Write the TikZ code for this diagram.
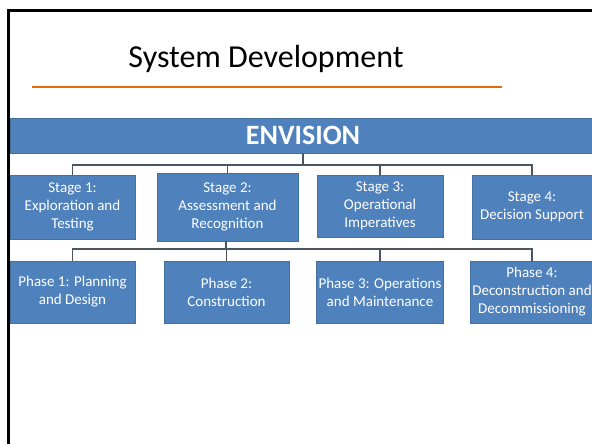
\documentclass[tikz,border=0pt]{standalone}
\usepackage{fontspec}
\setmainfont{Carlito}
\definecolor{boxblue}{RGB}{79,129,189}
\definecolor{boxedge}{RGB}{65,113,156}
\definecolor{linkgray}{RGB}{75,85,95}
\definecolor{rulered}{RGB}{228,108,10}

\begin{document}
\begin{tikzpicture}[
  x=1pt, y=-1pt,
  box/.style={draw=boxedge, fill=boxblue, text=white, align=center, inner sep=2pt,
    font=\fontsize{15}{18}\selectfont},
  stagebox/.style={box, minimum height=64},
  phasebox/.style={box, minimum height=62},
  link/.style={draw=linkgray, line width=1.2pt}
]
\clip (0,0) rectangle (592,444);
\fill[white] (0,0) rectangle (592,444);
\draw[line width=3pt] (8,450) -- (8,11) -- (600,11);

\node[anchor=base, font=\fontsize{32}{36}\selectfont] (title) at (266,68) {System Development};
\draw[rulered, line width=2pt] (32,87) -- (502,87);

\node[box, minimum width=582, minimum height=35] (env) at (301,135.5) {};
\node[anchor=base, text=white, font=\fontsize{28}{32}\selectfont\bfseries] (envtxt) at (303,144) {ENVISION};

% stages
\node[stagebox, minimum width=125] (s1) at (72.5,207) {Stage 1:\\Exploration and\\Testing};
\node[stagebox, minimum width=141, minimum height=68] (s2) at (227.5,207) {Stage 2:\\Assessment and\\Recognition};
\node[stagebox, minimum width=126, minimum height=62] (s3) at (380,206) {Stage 3:\\Operational\\Imperatives};
\node[stagebox, minimum width=120] (s4) at (532,207) {Stage 4:\\Decision Support};

% phases
\node[phasebox, minimum width=125] (p1) at (72.5,292) {Phase 1: Planning\\and Design};
\node[phasebox, minimum width=125] (p2) at (226.5,292) {Phase 2:\\Construction};
\node[phasebox, minimum width=126] (p3) at (380,292) {Phase 3: Operations\\and Maintenance};
\node[phasebox, minimum width=120] (p4) at (532,292) {Phase 4:\\Deconstruction and\\Decommissioning};

% bus lines
\coordinate (bus1) at (303,165);
\coordinate (bus2) at (226,249);
\draw[link] (env.south -| bus1) -- (bus1);
\draw[link] (s1.north) |- (bus1) -| (s4.north);
\draw[link] (s2.north) -- (s2.north |- bus1);
\draw[link] (s3.north) -- (s3.north |- bus1);
\draw[link] (s2.south -| bus2) -- (bus2);
\draw[link] (p1.north) |- (bus2) -| (p4.north);
\draw[link] (p2.north) -- (p2.north |- bus2);
\draw[link] (p3.north) -- (p3.north |- bus2);
\end{tikzpicture}
\end{document}
